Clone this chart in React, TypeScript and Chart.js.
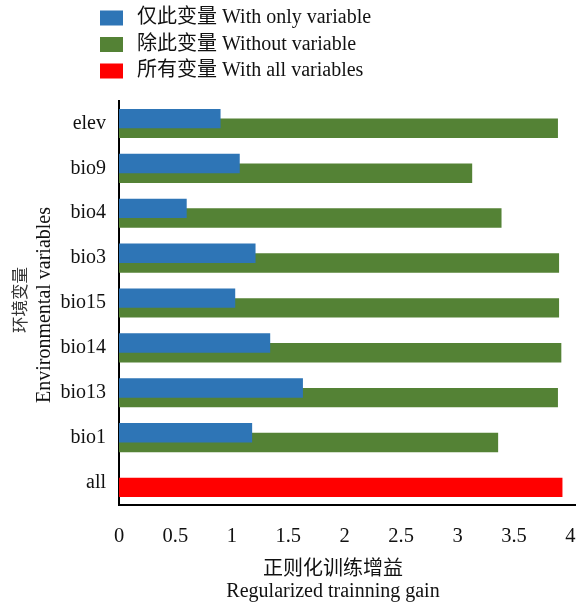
import React, { useEffect, useRef } from "react";
import { Chart, registerables } from "chart.js";

Chart.register(...registerables);

const categories = ["elev", "bio9", "bio4", "bio3", "bio15", "bio14", "bio13", "bio1", "all"];
const withOnlyValues = [0.9, 1.07, 0.6, 1.21, 1.03, 1.34, 1.63, 1.18, null];
const withoutValues = [3.89, 3.13, 3.39, 3.9, 3.9, 3.92, 3.89, 3.36, null];
const withAllValues = [null, null, null, null, null, null, null, null, 3.93];
const seriesLabels = ["仅此变量 With only variable", "除此变量 Without variable", "所有变量 With all variables"];
const xTickValues = [0, 0.5, 1, 1.5, 2, 2.5, 3, 3.5, 4];
const xTickLabels = ["0", "0.5", "1", "1.5", "2", "2.5", "3", "3.5", "4"];
const xTitleLines = ["正则化训练增益", "Regularized trainning gain"];
const yTitleLines = ["环境变量", "Environmental variables"];

const FONT_FAMILY = '"Liberation Serif", "Times New Roman", "Noto Sans CJK SC", serif';

const overlayPlugin = {
  id: "overlayLegendTitle",
  afterDraw(chart: any) {
    const ctx = chart.ctx;
    ctx.save();
    ctx.font = `20px ${FONT_FAMILY}`;
    ctx.textBaseline = "middle";
    ctx.textAlign = "left";
    chart.data.datasets.forEach((ds: any, i: number) => {
      const yc = 18 + i * 26.5;
      ctx.fillStyle = ds.backgroundColor;
      ctx.fillRect(100, yc - 7.5, 23, 15);
      ctx.fillStyle = "#111";
      ctx.fillText(ds.label, 137, yc);
    });
    ctx.textAlign = "center";
    ctx.fillStyle = "#111";
    ctx.fillText(xTitleLines[0], 333, 570);
    ctx.fillText(xTitleLines[1], 333, 592);
    // y-axis title, rotated
    ctx.save();
    ctx.translate(22, 300);
    ctx.rotate(-Math.PI / 2);
    ctx.font = `16.5px ${FONT_FAMILY}`;
    ctx.fillStyle = "#333";
    ctx.fillText(yTitleLines[0], 0, 0);
    ctx.restore();
    ctx.save();
    ctx.translate(45, 305);
    ctx.rotate(-Math.PI / 2);
    ctx.font = `20px ${FONT_FAMILY}`;
    ctx.fillStyle = "#111";
    ctx.fillText(yTitleLines[1], 0, 0);
    ctx.restore();
    ctx.restore();
  },
};

export default function App() {
  const ref = useRef<HTMLCanvasElement | null>(null);

  useEffect(() => {
    if (!ref.current) return;
    const chart = new Chart(ref.current, {
      type: "bar",
      data: {
        labels: categories,
        datasets: [
          {
            label: seriesLabels[0],
            data: withOnlyValues as any,
            backgroundColor: "#2E75B6",
            stack: "a",
            categoryPercentage: 0.432,
            barPercentage: 2.0,
          },
          {
            label: seriesLabels[1],
            data: withoutValues as any,
            backgroundColor: "#548235",
            stack: "b",
            categoryPercentage: 0.432,
            barPercentage: 2.0,
          },
          {
            label: seriesLabels[2],
            data: withAllValues as any,
            backgroundColor: "#FF0000",
            stack: "b",
            categoryPercentage: 0.432,
            barPercentage: 2.0,
          },
        ],
      },
      options: {
        animation: false,
        responsive: false,
        indexAxis: "y",
        layout: { padding: { top: 101, right: 0, left: 0, bottom: 0 } },
        plugins: {
          legend: { display: false },
          tooltip: { enabled: false },
        },
        scales: {
          x: {
            type: "linear",
            stacked: false,
            min: 0,
            max: 4.05,
            grid: { display: false, drawTicks: false, tickLength: 0 },
            border: { display: true, color: "#000", width: 2 },
            ticks: {
              includeBounds: false,
              autoSkip: false,
              maxRotation: 0,
              color: "#111",
              padding: 19,
              font: { family: FONT_FAMILY, size: 20.5 },
              callback: (_v: any, i: number) => xTickLabels[i],
            },
            afterBuildTicks: (scale: any) => {
              scale.ticks = xTickValues.map((v) => ({ value: v }));
            },
            afterFit: (scale: any) => {
              scale.height = 100;
              scale.paddingRight = 0;
              scale.paddingLeft = 0;
            },
          },
          y: {
            type: "category",
            grid: { display: false, drawTicks: false, tickLength: 0 },
            border: { display: true, color: "#000", width: 2 },
            ticks: {
              color: "#111",
              padding: 13,
              font: { family: FONT_FAMILY, size: 20 },
            },
            afterFit: (scale: any) => {
              scale.width = 119;
              scale.paddingTop = 0;
              scale.paddingBottom = 0;
            },
          },
        },
      },
      plugins: [overlayPlugin],
    });
    return () => chart.destroy();
  }, []);

  return (
    <div style={{ position: "absolute", left: 0, top: 0, width: 576, height: 605, background: "#fff" }}>
      <canvas ref={ref} width={576} height={605} style={{ display: "block" }} />
    </div>
  );
}
